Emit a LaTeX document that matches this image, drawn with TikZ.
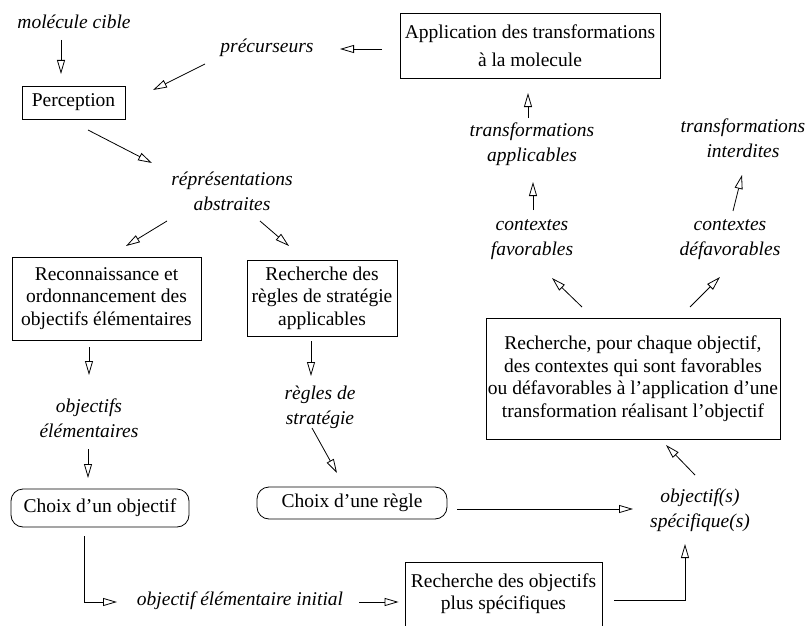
\documentclass[tikz,border=0pt]{standalone}
\usepackage{fontspec}
\setmainfont{Liberation Serif}
\usetikzlibrary{arrows.meta}
\begin{document}
\begin{tikzpicture}[x=1pt,y=-1pt,
  every node/.style={font=\fontsize{19.5}{22.5}\selectfont, align=center, inner sep=0pt},
  box/.style={draw, line width=0.8pt},
  rbox/.style={draw, line width=0.8pt, rounded corners=12pt},
  lab/.style={font=\fontsize{19.5}{25}\selectfont\itshape},
  arr/.style={-{Triangle[open,length=14pt,width=8pt]}, line width=0.8pt},
]
\useasboundingbox (0,0) rectangle (809,626);

% boxes
\node[box, minimum width=103pt, minimum height=33pt] (perc) at (73.5,102.5) {Perception};
\node[box, minimum width=260pt, minimum height=65pt] (appl) at (530,45.5) {Application des transformations\\[6pt]à la molecule};
\node[box, minimum width=189pt, minimum height=83pt] (recon) at (106.5,298.5) {Reconnaissance et\\ordonnancement des\\objectifs élémentaires};
\node[box, minimum width=150pt, minimum height=76pt] (regles) at (322,298) {Recherche des\\règles de stratégie\\applicables};
\node[box, minimum width=294pt, minimum height=121pt] (rech) at (633,378.5) {Recherche, pour chaque objectif,\\des contextes qui sont favorables\\ou défavorables à l’application d’une\\transformation réalisant l’objectif};
\node[rbox, minimum width=178pt, minimum height=38pt] (choixobj) at (100,508) {Choix d’un objectif};
\node[rbox, minimum width=190pt, minimum height=32pt] (choixreg) at (352,503) {Choix d’une règle};
\node[box, minimum width=197pt, anchor=north, inner ysep=11pt] (rechobj) at (503.5,562) {Recherche des objectifs\\plus spécifiques\rule[-40pt]{0pt}{0pt}};

% labels
\node[lab] (mol) at (74,22) {molécule cible};
\node[lab] (prec) at (267,48) {précurseurs};
\node[lab] (repr) at (232,191) {réprésentations\\abstraites};
\node[lab] (objel) at (89,418) {objectifs\\élémentaires};
\node[lab] (regstrat) at (320,407) {règles de\\stratégie};
\node[lab] (objinit) at (240,601) {objectif élémentaire initial};
\node[lab] (objspec) at (700,510) {objectif(s)\\spécifique(s)};
\node[lab] (trappl) at (532,144) {transformations\\applicables};
\node[lab] (ctxfav) at (532,240) {contextes\\favorables};
\node[lab] (trint) at (743,138) {transformations\\interdites};
\node[lab] (ctxdef) at (730,240) {contextes\\défavorables};

% connectors
\draw[arr] ([shift={(-13,18)}]mol.center) -- ([shift={(-12.5,-28.5)}]perc.center);
\draw[arr] ([shift={(-148,3.5)}]appl.center) -- ([shift={(73,1)}]prec.center);
\draw[arr] ([shift={(-62,16)}]prec.center) -- ([shift={(79.5,-12.5)}]perc.center);
\draw[arr] ([shift={(14.5,27.5)}]perc.center) -- ([shift={(-80,-28)}]repr.center);
\draw[arr] ([shift={(-65,30)}]repr.center) -- ([shift={(19.5,-52.5)}]recon.center);
\draw[arr] ([shift={(28,30)}]repr.center) -- ([shift={(-33,-52)}]regles.center);
\draw[arr] ([shift={(-17.5,48.5)}]recon.center) -- ([shift={(0,-43)}]objel.center);
\draw[arr] ([shift={(-11,43)}]regles.center) -- ([shift={(-9,-31)}]regstrat.center);
\draw[arr] ([shift={(-1,31)}]objel.center) -- ([shift={(-12,-30)}]choixobj.center);
\draw[arr] ([shift={(-8,21)}]regstrat.center) -- ([shift={(-15,-30)}]choixreg.center);
\draw[arr] ([shift={(-16,28)}]choixobj.center) |- ([shift={(-123,1)}]objinit.center);
\draw[arr] ([shift={(119,1)}]objinit.center) -- ([shift={(-6,40)}]rechobj.north west);
\draw[arr] ([shift={(12,38)}]rechobj.north east) -| ([shift={(-15,34)}]objspec.center);
\draw[arr] ([shift={(105,6)}]choixreg.center) -- ([shift={(-67,-1)}]objspec.center);
\draw[arr] ([shift={(-5,-35)}]objspec.center) -- ([shift={(33,66.5)}]rech.center);
\draw[arr] ([shift={(-51,-71.5)}]rech.center) -- ([shift={(20,38)}]ctxfav.center);
\draw[arr] ([shift={(57,-71.5)}]rech.center) -- ([shift={(-10,37)}]ctxdef.center);
\draw[arr] ([shift={(1,-30)}]ctxfav.center) -- ([shift={(1,38)}]trappl.center);
\draw[arr] ([shift={(3,-29)}]ctxdef.center) -- ([shift={(-1,37)}]trint.center);
\draw[arr] ([shift={(-4,-26)}]trappl.center) -- ([shift={(-2,47.5)}]appl.center);
\end{tikzpicture}
\end{document}
